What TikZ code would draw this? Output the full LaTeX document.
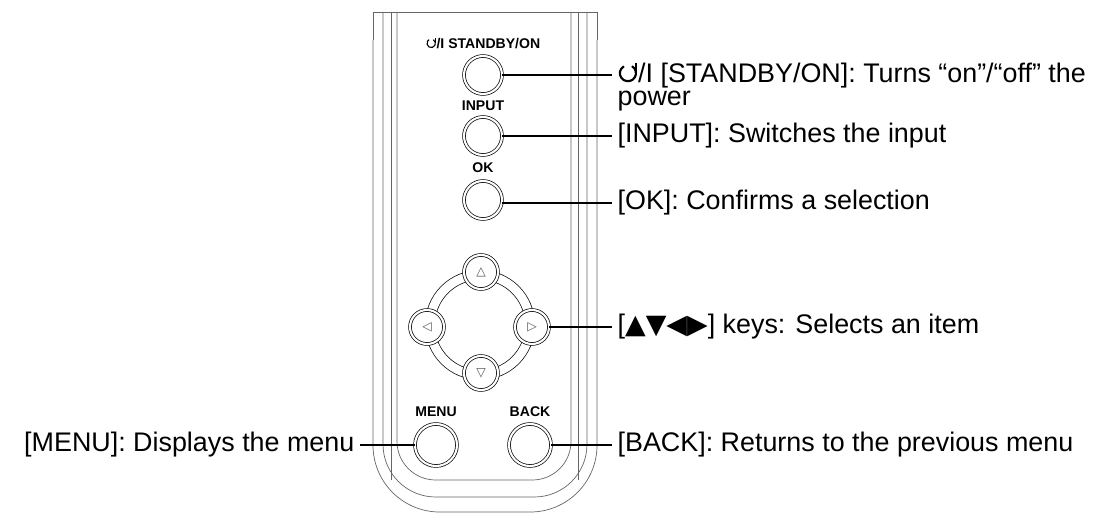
\documentclass[tikz,border=0pt]{standalone}
\usepackage{fontspec}
\setmainfont{Liberation Sans}
\newfontfamily\symfont{DejaVu Sans}
\usepackage{tikz}
\newcommand{\pwrsym}{\tikz[baseline=0pt,x=1em,y=1em,line width=0.08em]{\draw (0.12,0.62) arc (60:-240:0.3);\draw (0.27,0.75)--(0.27,0.4);}}
\tikzset{
  desc/.style={font=\fontsize{15.3}{18}\selectfont, inner ysep=0pt, inner xsep=3pt},
  lab/.style={font=\fontsize{8}{9}\selectfont\bfseries, inner sep=0pt},
  knob/.style={circle, draw, double, double distance=1.2pt, fill=white, minimum size=#1*0.02cm},
  knob/.default=38,
  arr/.style={font=\fontsize{7}{8}\selectfont\symfont, text=gray!70!black},
}
\begin{document}
\begin{tikzpicture}[x=0.02cm,y=-0.02cm]
\useasboundingbox (0,0) rectangle (1098,517);
% housing
\draw[gray!80!black] (373,40) -- (373,12) -- (597,12) -- (597,40);
\draw[gray!80!black, rounded corners=38] (373,40) -- (373,512) -- (597,512) -- (597,40);
\draw[gray!80!black, rounded corners=30] (383,12) -- (383,497) -- (587,497) -- (587,12);
\draw[gray!80!black, rounded corners=22] (397,12) -- (397,480) -- (571,480) -- (571,12);
\draw[gray!80!black] (391,12) -- (391,480);
\draw[gray!80!black] (578,12) -- (578,480);
% labels on panel
\node[lab] at (483,43) {\pwrsym/I STANDBY/ON};
\node[lab] at (483,106) {INPUT};
\node[lab] at (483,168) {OK};
\node[lab] at (436,412) {MENU};
\node[lab] at (530,412) {BACK};
% buttons
\node[knob] (power) at (483,75) {};
\node[knob] (input) at (483,136) {};
\node[knob] (ok) at (483,200) {};
\draw[double, double distance=5pt] (480,325) circle (50);
\node[knob=34, arr] (up) at (481,272) {△};
\node[knob=34, arr] (left) at (427,327) {◁};
\node[knob=34, arr] (right) at (532,327) {▷};
\node[knob=34, arr] (down) at (481,373) {▽};
\node[knob=42] (menu) at (436,445) {};
\node[knob=42] (back) at (530,445) {};
% descriptions
\node[desc, anchor=west] (tpower) at (612,75) {\pwrsym/I [STANDBY/ON]: Turns “on”/“off” the};
\node[desc, anchor=base west] at (612,106) {power};
\node[desc, anchor=west] (tinput) at (612,136) {[INPUT]: Switches the input};
\node[desc, anchor=west] (tok) at (612,203) {[OK]: Confirms a selection};
\node[desc, anchor=west] (tkeys) at (612,327) {[{\symfont ▲▼◀▶}] keys: Selects an item};
\node[desc, anchor=west] (tback) at (612,445) {[BACK]: Returns to the previous menu};
\node[desc, anchor=east] (tmenu) at (360,445) {[MENU]: Displays the menu};
% leaders
\draw[thick] (power.east) -- (tpower.west);
\draw[thick] (input.east) -- (tinput.west);
\draw[thick] (ok.east |- tok) -- (tok.west);
\draw[thick] (right.east) -- (tkeys.west);
\draw[thick] (back.east) -- (tback.west);
\draw[thick] (menu.west) -- (tmenu.east);
\end{tikzpicture}
\end{document}
